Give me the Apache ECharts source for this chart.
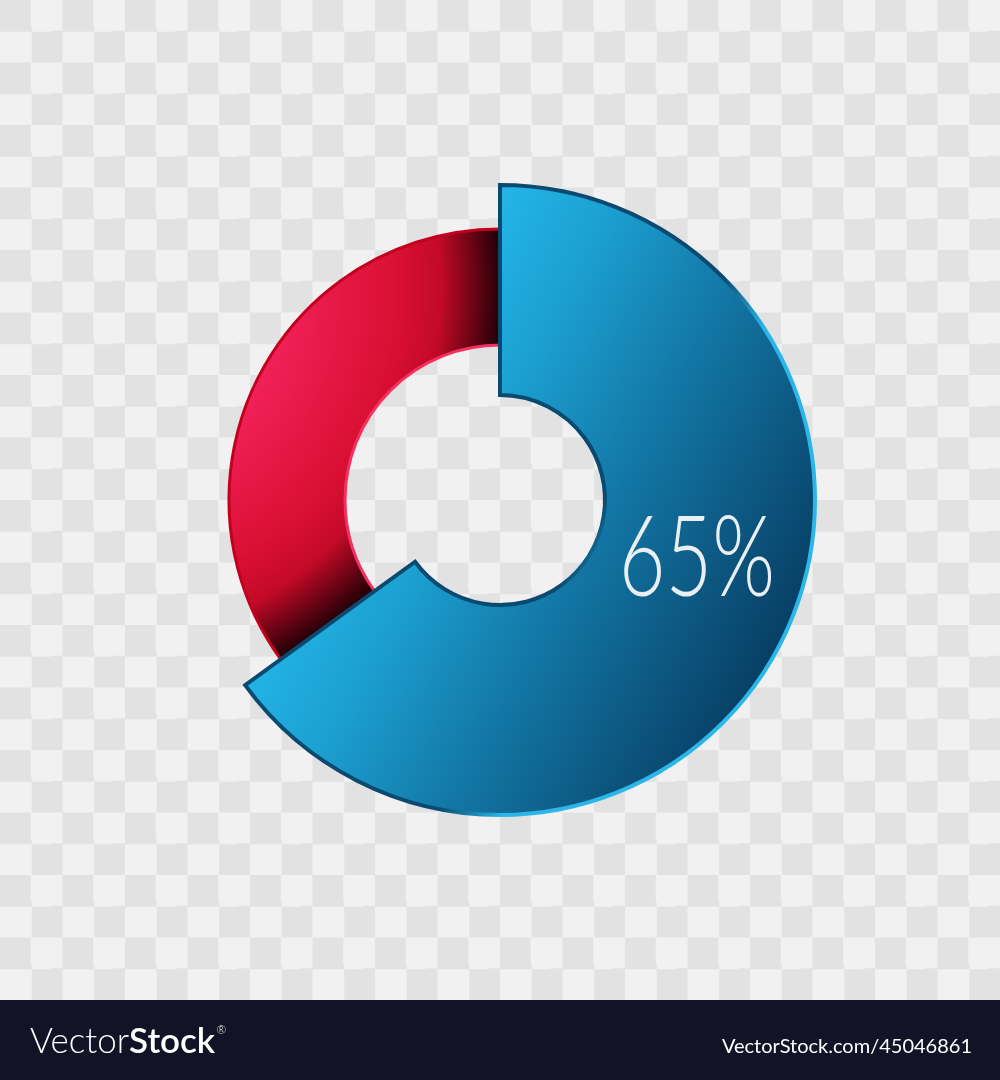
<!DOCTYPE html>
<html>
<head>
<meta charset="utf-8">
<script src="https://cdn.jsdelivr.net/npm/echarts@6/dist/echarts.min.js"></script>
<style>
  html, body { margin: 0; padding: 0; }
  #chart {
    width: 1000px; height: 1080px;
    background: repeating-conic-gradient(#f1f1f1 0 25%, #e2e2e2 0 50%) 0 0 / 62.5px 62.5px;
  }
</style>
</head>
<body>
<div id="chart"></div>
<script>
// ---- data ----
const categories = ['Blue share', 'Red share'];
const values = [65, 35];
const valueLabel = values[0] + '%';
const brandLight = 'Vector';
const brandBold = 'Stock';
const footerUrl = 'VectorStock.com/45046861';

const chart = echarts.init(document.getElementById('chart'), null, { renderer: 'canvas' });

const blueFill = {
  type: 'linear', global: true, x: 475, y: 254, x2: 915, y2: 489,
  colorStops: [
    { offset: 0, color: '#22b4e5' },
    { offset: 0.2, color: '#1b9fd0' },
    { offset: 0.5, color: '#1274a2' },
    { offset: 0.7, color: '#0d5a84' },
    { offset: 1, color: '#053357' }
  ]
};
const blueBorder = {
  type: 'linear', global: true, x: 475, y: 254, x2: 915, y2: 489,
  colorStops: [
    { offset: 0, color: '#0a4a70' },
    { offset: 0.46, color: '#0a4a70' },
    { offset: 0.58, color: '#2ab6e8' },
    { offset: 1, color: '#2ab6e8' }
  ]
};
const redFill = {
  type: 'radial', global: true, x: 84, y: 288, r: 420,
  colorStops: [
    { offset: 0, color: '#f72660' },
    { offset: 0.46, color: '#f2215a' },
    { offset: 0.75, color: '#d90f32' },
    { offset: 0.85, color: '#c30a28' },
    { offset: 0.93, color: '#6a0414' },
    { offset: 1, color: '#1a0006' }
  ]
};
const redBorder = {
  type: 'radial', global: true, x: 500, y: 500, r: 275,
  colorStops: [
    { offset: 0, color: '#f5305e' },
    { offset: 0.58, color: '#f5305e' },
    { offset: 0.9, color: '#c8061f' },
    { offset: 1, color: '#c0001c' }
  ]
};

const hidden = { color: 'transparent', borderWidth: 0 };

chart.setOption({
  backgroundColor: 'transparent',
  animation: false,
  series: [
    {
      type: 'pie',
      name: 'red',
      z: 2,
      silent: true,
      center: [500, 500],
      radius: [155, 271],
      startAngle: 90,
      clockwise: true,
      label: { show: false },
      labelLine: { show: false },
      emphasis: { disabled: true },
      data: [
        { name: categories[0], value: values[0], itemStyle: hidden },
        { name: categories[1], value: values[1],
          itemStyle: { color: redFill, borderColor: redBorder, borderWidth: 3 } }
      ]
    },
    {
      type: 'pie',
      name: 'blue',
      z: 3,
      silent: true,
      center: [500, 500],
      radius: [105, 315],
      startAngle: 90,
      clockwise: true,
      label: { show: false },
      labelLine: { show: false },
      emphasis: { disabled: true },
      data: [
        { name: categories[0], value: values[0],
          itemStyle: { color: blueFill, borderColor: blueBorder, borderWidth: 4, borderJoin: 'miter' } },
        { name: categories[1], value: values[1], itemStyle: hidden }
      ]
    }
  ],
  graphic: [
    {
      type: 'text',
      x: 697, y: 560,
      scaleX: 0.72,
      z: 10,
      style: {
        text: valueLabel,
        x: 0, y: 0,
        align: 'center', verticalAlign: 'middle',
        fontFamily: 'Lato', fontWeight: 300, fontSize: 112,
        fill: '#e9eff3'
      }
    },
    {
      type: 'rect',
      z: 5,
      shape: { x: 0, y: 1000, width: 1000, height: 80 },
      style: { fill: '#121326' }
    },
    {
      type: 'text',
      z: 6,
      style: {
        x: 30, y: 1042,
        verticalAlign: 'middle',
        text: '{a|' + brandLight + '}{b|' + brandBold + '}{c|®}',
        rich: {
          a: { fontFamily: 'Lato', fontWeight: 300, fontSize: 35, fill: '#ffffff' },
          b: { fontFamily: 'Lato', fontWeight: 600, fontSize: 35, fill: '#ffffff' },
          c: { fontFamily: 'Lato', fontWeight: 300, fontSize: 12, fill: '#ffffff', verticalAlign: 'top', padding: [0, 0, 20, 1] }
        }
      }
    },
    {
      type: 'text',
      z: 6,
      style: {
        x: 972, y: 1047,
        align: 'right', verticalAlign: 'middle',
        text: footerUrl,
        fontFamily: 'Lato', fontWeight: 400, fontSize: 20,
        fill: '#ffffff'
      }
    }
  ]
});
</script>
</body>
</html>
